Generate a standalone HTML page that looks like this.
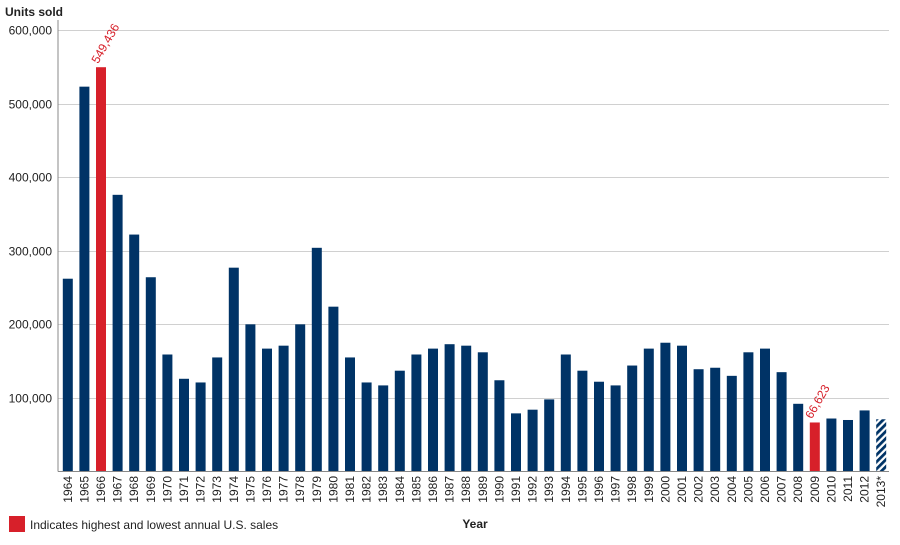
<!DOCTYPE html>
<html><head><meta charset="utf-8"><style>
body{margin:0;background:#fff;font-family:"Liberation Sans",sans-serif;}
svg text{font-family:"Liberation Sans",sans-serif;}
</style></head><body>
<svg id="chart" width="900" height="540" xmlns="http://www.w3.org/2000/svg">
<defs>
<pattern id="hatch" patternUnits="userSpaceOnUse" width="5" height="5" patternTransform="rotate(45)">
<rect width="5" height="5" fill="#fff"/><rect width="2.8" height="5" fill="#003366"/>
</pattern>
</defs>
<text x="5" y="16" font-size="12" font-weight="bold" fill="#222">Units sold</text>
<g id="grid"></g><g id="bars"></g><g id="xlabels"></g>
<line x1="58" y1="20" x2="58" y2="471.5" stroke="#888" stroke-width="1"/>
<line x1="58" y1="471.5" x2="889" y2="471.5" stroke="#888" stroke-width="1"/>
<text x="475" y="528" font-size="12" font-weight="bold" fill="#222" text-anchor="middle">Year</text>
<rect x="9" y="516" width="16" height="16" fill="#d7202a"/>
<text x="30" y="529" font-size="12" fill="#222">Indicates highest and lowest annual U.S. sales</text>
</svg>
<script>
const years=["1964","1965","1966","1967","1968","1969","1970","1971","1972","1973","1974","1975","1976","1977","1978","1979","1980","1981","1982","1983","1984","1985","1986","1987","1988","1989","1990","1991","1992","1993","1994","1995","1996","1997","1998","1999","2000","2001","2002","2003","2004","2005","2006","2007","2008","2009","2010","2011","2012","2013*"];
const sales=[262000,523000,549436,376000,322000,264000,159000,126000,121000,155000,277000,200000,167000,171000,200000,304000,224000,155000,121000,117000,137000,159000,167000,173000,171000,162000,124000,79000,84000,98000,159000,137000,122000,117000,144000,167000,175000,171000,139000,141000,130000,162000,167000,135000,92000,66623,72000,70000,83000,71000];
const highlight=["1966","2009"];
const projected=["2013*"];
const yTicks=[100000,200000,300000,400000,500000,600000];
const yTickLabels=["100,000","200,000","300,000","400,000","500,000","600,000"];
const NS="http://www.w3.org/2000/svg";
const x0=58,x1=888,yBase=471.5,yTop=30;
function yScale(v){return yBase-(v/600000)*(yBase-yTop);}
const band=(x1-x0)/years.length;
function xCenter(i){return x0+band*(i+0.5)+1.5;}
function mk(tag,attrs,parent){const e=document.createElementNS(NS,tag);for(const k in attrs)e.setAttribute(k,attrs[k]);parent.appendChild(e);return e;}
const grid=document.getElementById('grid'),bars=document.getElementById('bars'),xl=document.getElementById('xlabels');
yTicks.forEach((t,i)=>{
  const y=Math.round(yScale(t))+0.5;
  const l=mk('line',{x1:58,x2:889,y1:y,y2:y,stroke:'#d0d0d0','stroke-width':1},grid);
  
  
  const tx=mk('text',{x:52,y:y+4,'font-size':12,'text-anchor':'end',fill:'#222'},grid);
  
  
  tx.textContent=yTickLabels[i];
});
years.forEach((yr,i)=>{
  const cx=xCenter(i),w=10,top=yScale(sales[i]);
  let fill='#003366';
  if(highlight.includes(yr))fill='#d7202a';
  if(projected.includes(yr))fill='url(#hatch)';
  const r=mk('rect',{x:cx-w/2,y:top,width:w,height:yBase-top,fill:fill},bars);
  
  
  if(highlight.includes(yr)){
    const a=mk('text',{x:cx-3,y:top-3,'font-size':12,fill:'#d7202a',transform:`rotate(-60 ${cx-3} ${top-3})`},bars);
    
    
    a.textContent=sales[i].toLocaleString('en-US');
  }
  const t=mk('text',{x:0,y:0,'font-size':12,fill:'#222','text-anchor':'end',transform:`translate(${cx+4},476) rotate(-90)`},xl);
  
  
  t.textContent=yr;
});
</script>
</body></html>
